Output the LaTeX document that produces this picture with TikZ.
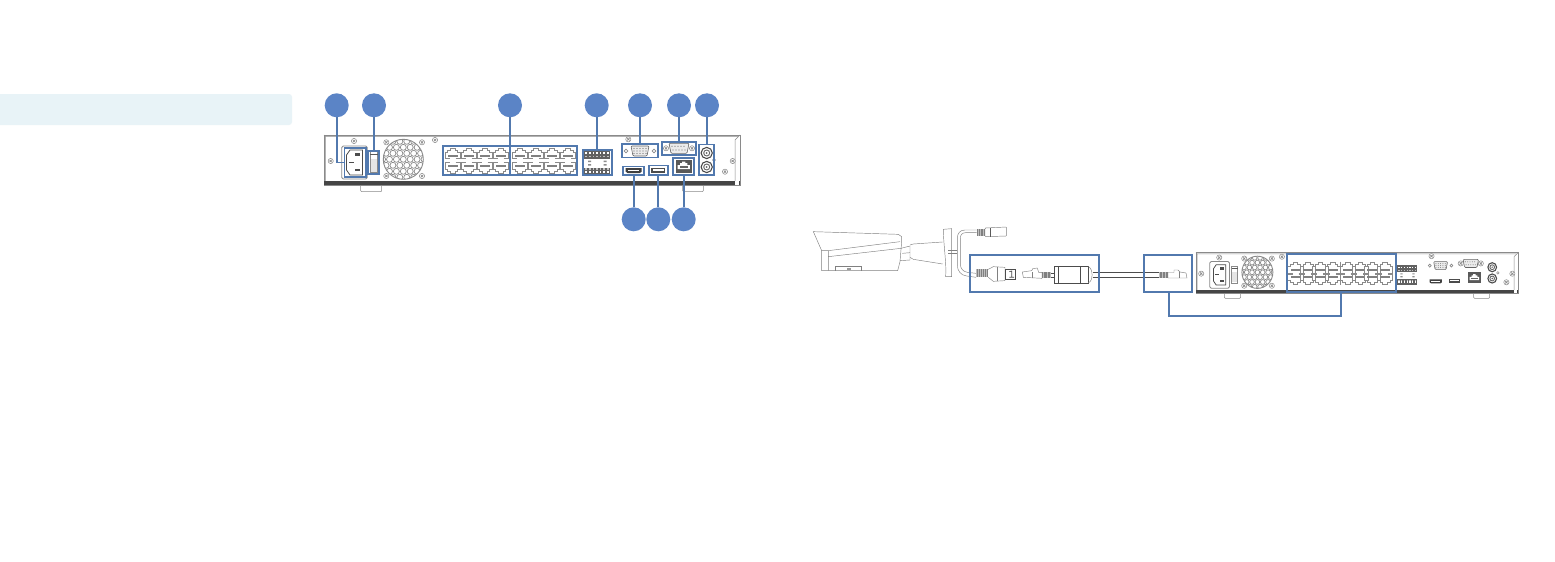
\documentclass[tikz,border=0pt]{standalone}
\definecolor{markblue}{HTML}{5B84C6}
\definecolor{boxblue}{HTML}{5279AE}
\definecolor{bannerblue}{HTML}{E8F3F7}
\definecolor{devline}{HTML}{8A8A8A}
\definecolor{devdark}{HTML}{454545}
\tikzset{
  x=1pt,y=-1pt,
  marker/.style={circle,fill=markblue,draw=none,minimum size=24pt,inner sep=0pt,outer sep=0pt},
  framebox/.style={rectangle,draw=boxblue,line width=1.7pt,fill=none,inner sep=0pt,outer sep=0pt},
  link/.style={draw=boxblue,line width=1.7pt},
  dev/.style={draw=devline,line width=.5pt},
  cam/.style={draw=black!50,line width=.45pt},
  wire/.style={draw=black!70,line width=.7pt},
  screw/.pic={
    \draw[dev,fill=white] (0,0) circle (2.6);
    \draw[dev,line width=.7pt] (-1.2,-1.2)--(1.2,1.2) (-1.2,1.2)--(1.2,-1.2);
  },
  rjport/.pic={
    \draw[dev,line width=.7pt] (-7.8,5.5)--(-7.8,-1)--(-5,-1)--(-5,-3)--(-2.2,-3)--(-2.2,-5)--(2.2,-5)--(2.2,-3)--(5,-3)--(5,-1)--(7.8,-1)--(7.8,5.5);
    \fill[black!50] (-5,1.8) rectangle (5,3.8);
    \draw[dev,line width=.7pt] (-7.8,5.5)--(-3,5.5) (3,5.5)--(7.8,5.5);
  },
  plugright/.pic={
    \fill[black!25] (0,-3) rectangle (9,3);
    \foreach \q in {1,2.5,...,8.5}{\draw[black!50,line width=.4pt] (\q,-3)--(\q,3);}
    \draw[cam,fill=white] (9,-2.5)--(15,-2.5)--(15,-5)--(19,-5)--(21,-3)--(27,-2)--(28,3)--(9,3)--cycle;
    \draw[cam] (20,-3)--(20,3);
  },
  nvr/.pic={
    % feet
    \draw[dev,rounded corners=1pt] (36.7,50)--(36.7,56.7)--(57.7,56.7)--(57.7,50);
    \draw[dev,rounded corners=1pt] (358.7,50)--(358.7,56.7)--(379.3,56.7)--(379.3,50);
    % body
    \draw[dev,fill=white,line width=.7pt] (0,0) rectangle (416,50);
    \draw[dev] (1.5,1.5)--(414,1.5) (1.5,1.5)--(1.5,46) (0,0)--(1.5,1.5);
    \draw[dev] (416,0)--(411,5)--(411,46);
    \fill[devdark] (0,46.3) rectangle (416,49.8);
    \fill[white] (411,46.3) rectangle (415,49.8);
    % fan
    \begin{scope}
      \clip (79.3,24.3) circle (20);
      \foreach \r in {-3,...,3}{
        \foreach \c in {-3,...,3}{
          \pgfmathsetmacro{\fx}{79.3+\c*6.9+mod(abs(\r),2)*3.45}
          \pgfmathsetmacro{\fy}{24.3+\r*6}
          \draw[dev,line width=.7pt] (\fx,\fy) circle (3);
        }
      }
    \end{scope}
    \draw[dev,line width=.9pt] (79.3,24.3) circle (20);
    % screws
    \foreach \p in {(30,6),(6.7,26),(111,5),(304.3,4.3),(408.7,26),(401,36.7),(62.3,7.3),(98,7.3),(62.3,41),(98,41)}{
      \pic at \p {screw};
    }
    \draw[dev] (390,25) circle (1.6);
    % power socket
    \draw[dev,line width=.8pt,rounded corners=1.5pt] (17.7,11) rectangle (43.3,44);
    \draw[black!70,line width=.8pt] (26,15)--(38.5,15)--(38.5,40)--(26,40)--(22.5,35)--(22.5,20)--cycle;
    \fill[black!70] (30.8,18.2) rectangle (35.8,21.2);
    \fill[black!70] (24.5,26.6) rectangle (29.5,28.2);
    \fill[black!70] (30.8,34.2) rectangle (35.8,35.8);
    % switch
    \draw[dev] (46,16.7) rectangle (53.7,37.3);
    \fill[black!65] (46,19) rectangle (53.7,20.2);
    \fill[black!10] (46.8,24) rectangle (52.9,36.5);
    % network ports
    \foreach \q in {128.7,144.7,160.7,176.7,196,212,228,244}{
      \pic at (\q,18.3) {rjport};
      \pic[yscale=-1] at (\q,33.3) {rjport};
    }
    \draw[dev] (186.3,11)--(186.3,40);
    % alarm terminal
    \fill[black!62] (260.3,15.5) rectangle (286,23.5);
    \fill[black!62] (260.3,32.5) rectangle (286,40);
    \foreach \q in {0,...,6}{
      \fill[white] (261.4+\q*3.6,17.4) rectangle (262.9+\q*3.6,19.4);
      \fill[white] (261.4+\q*3.6,35.5) rectangle (262.9+\q*3.6,37.5);
      \fill[black!25] (261.4+\q*3.6,21) rectangle (262.9+\q*3.6,22.4);
      \fill[black!25] (261.4+\q*3.6,33.4) rectangle (262.9+\q*3.6,34.6);
    }
    \fill[black!45] (264,25.5) rectangle (267,27) (264,29) rectangle (267,30.5);
    \fill[black!45] (279.5,25.5) rectangle (282.5,27) (279.5,29) rectangle (282.5,30.5);
    % VGA
    \draw[black!60,line width=.6pt,fill=black!8,rounded corners=1pt] (307,11)--(325,11)--(323,21)--(309,21)--cycle;
    \foreach \q in {310,313,316,319,322}{\fill[black!55] (\q,13.5) circle (.6) (\q,16) circle (.6) (\q,18.5) circle (.6);}
    \draw[dev,line width=.7pt] (302,16) circle (1.8) (330,16) circle (1.8);
    % serial
    \draw[black!60,line width=.6pt,fill=black!8,rounded corners=1pt] (345,8.3)--(365,8.3)--(363,18.3)--(347,18.3)--cycle;
    \foreach \q in {348,351,354,357,360}{\fill[black!55] (\q,11.3) circle (.6) (\q+1,15) circle (.6);}
    \pic at (342,13.3) {screw};
    \pic at (368,13.3) {screw};
    % HDMI
    \fill[black!75] (301.7,33.2)--(317.7,33.2)--(317.7,36.7)--(315.5,38.2)--(303.9,38.2)--(301.7,36.7)--cycle;
    \fill[white] (304,34.8) rectangle (315.4,35.8);
    % USB
    \fill[black!70] (327.3,33.2) rectangle (341.3,38.2);
    \fill[white] (328.5,34.4) rectangle (340,35.6);
    % LAN
    \fill[black!65] (351.7,24.5) rectangle (367.7,37.5);
    \fill[white] (353.5,30)--(356,30)--(356,28)--(358,28)--(358,26.5)--(361.4,26.5)--(361.4,28)--(363.4,28)--(363.4,30)--(365.9,30)--(365.9,34)--(353.5,34)--cycle;
    \fill[black!60] (355.5,31) rectangle (363.9,33);
    % audio
    \foreach \q in {18,32}{
      \draw[black!70,line width=1.1pt,fill=white] (382.7,\q) circle (5.6);
      \draw[black!60,line width=.9pt] (382.7,\q) circle (3);
      \fill[black!60] (382.7,\q) circle (1);
    }
  }
}
\begin{document}
\begin{tikzpicture}
\useasboundingbox (0,0) rectangle (1555,562);
\fill[white] (0,0) rectangle (1555,562);
% banner
\fill[bannerblue] (0,94) [rounded corners=3pt] -- (292,94) -- (292,125) [sharp corners] -- (0,125) -- cycle;

% rear panel, upper left
\pic at (324,135) {nvr};

\node[framebox,minimum width=21.7pt,minimum height=28.4pt] (fpower) at (355.2,162.5) {};
\node[framebox,minimum width=11pt,minimum height=23.3pt] (fswitch) at (373.8,162.3) {};
\node[framebox,minimum width=134pt,minimum height=29.3pt] (fports) at (509.7,160.3) {};
\node[framebox,minimum width=29pt,minimum height=25.3pt] (fterm) at (597.2,162.3) {};
\node[framebox,minimum width=36.6pt,minimum height=13.3pt] (fvga) at (640,150.7) {};
\node[framebox,minimum width=34.3pt,minimum height=13.3pt] (fcom) at (678.9,148.3) {};
\node[framebox,minimum width=15.6pt,minimum height=30.7pt] (faudio) at (706.5,159.7) {};
\node[framebox,minimum width=20.4pt,minimum height=8.7pt] (fhdmi) at (633.5,170.7) {};
\node[framebox,minimum width=18.4pt,minimum height=9.7pt] (fusb) at (658.5,170.2) {};
\node[framebox,minimum width=21pt,minimum height=17.3pt] (flan) at (683.8,166.4) {};

\node[marker] (m1) at (336.7,105.3) {};
\node[marker] (m2) at (374,105.3) {};
\node[marker] (m3) at (510,105.3) {};
\node[marker] (m4) at (596.7,105.3) {};
\node[marker] (m5) at (640,105.3) {};
\node[marker] (m6) at (679,105.3) {};
\node[marker] (m7) at (707,105.3) {};
\node[marker] (m8) at (633.7,219.3) {};
\node[marker] (m9) at (658.3,219.3) {};
\node[marker] (m10) at (683.7,219.3) {};

\draw[link] (m1.south) |- (fpower.west);
\draw[link] (m2.south) -- (m2.south |- fswitch.north);
\draw[link] (m3.south) -- (m3.south |- fports.south);
\draw[link] (m4.south) -- (m4.south |- fterm.north);
\draw[link] (m5.south) -- (m5.south |- fvga.north);
\draw[link] (m6.south) -- (m6.south |- fcom.north);
\draw[link] (m7.south) -- (m7.south |- faudio.north);
\draw[link] (m8.north) -- (m8.north |- fhdmi.south);
\draw[link] (m9.north) -- (m9.north |- fusb.south);
\draw[link] (m10.north) -- (m10.north |- flan.south);

% camera
\begin{scope}[shift={(800,220)},x=.3333pt,y=-.3333pt]
  \draw[cam] (40,35)--(295,43)--(305,50)--(305,65)--(300,125)--(293,152)--(65,152)--(65,92)--cycle;
  \draw[cam] (65,92)--(85,92)--(300,65) (85,92)--(85,152) (85,110)--(303,85);
  \draw[cam] (107,152)--(107,140)--(185,140)--(185,152);
  \fill[black!40] (140,143) rectangle (152,150);
  \draw[cam] (303,85)--(330,78)--(330,120)--(300,122);
  \draw[cam] (307,100)--(330,98);
  \draw[cam] (330,75)--(340,72)--(428,66) (428,132)--(340,118)--(330,112);
  \draw[cam] (430,28)--(455,26)--(455,170)--(437,170) .. controls (440,130) and (430,70) .. (430,28);
  \draw[cam] (445,92)--(472,92) (445,100)--(472,100);
  \draw[cam] (530,30) -- (495,30) .. controls (480,30) and (472,40) .. (472,55) -- (472,135) .. controls (472,152) and (482,166) .. (500,168) -- (528,172);
  \draw[cam] (530,38) -- (497,38) .. controls (486,38) and (481,45) .. (481,55) -- (481,132) .. controls (481,146) and (490,155) .. (502,157) -- (528,160);
  \fill[black!25] (530,28) rectangle (555,48);
  \foreach \q in {533,538,...,553}{\draw[black!50,line width=.4pt] (\q,28)--(\q,48);}
  \draw[cam,rounded corners=.8pt] (555,24)--(620,21)--(620,48)--(555,50)--cycle;
  \draw[black!65,line width=.6pt] (570,24)--(570,50);
\end{scope}

% connector group
\begin{scope}[shift={(960,240)},x=.3333pt,y=-.3333pt]
  \fill[black!25] (48,88) rectangle (85,112);
  \foreach \q in {52,58,...,82}{\draw[black!50,line width=.4pt] (\q,88)--(\q,112);}
  \draw[cam] (85,88)--(100,80)--(135,82)--(135,122)--(100,124)--(85,112);
  \draw[cam] (112,82)--(112,122);
  \draw[wire] (137,87)--(165,87)--(165,118)--(137,118)--cycle;
  \draw[wire] (148,95)--(155,93)--(155,112) (148,112)--(162,112);
  \draw[cam,fill=white] (187,96)--(215,92)--(218,86)--(232,84)--(236,97)--(246,97)--(246,115)--(190,112)--cycle;
  \draw[cam] (218,97)--(218,115);
  \fill[black!25] (245,97) rectangle (272,115);
  \foreach \q in {248,252,...,270}{\draw[black!50,line width=.4pt] (\q,97)--(\q,115);}
  \draw[wire] (272,100)--(283,100) (272,112)--(283,112);
  \draw[wire,fill=white] (283,78) rectangle (385,130);
  \draw[wire] (295,78)--(295,130) (362,78)--(362,130);
  \draw[cam] (385,80) .. controls (400,85) and (400,125) .. (385,128);
\end{scope}
\draw[wire] (1093,272.7) -- (1159,272.7);
\draw[wire] (1093,277.3) -- (1159,277.3);
\pic at (1159,275) {plugright};
\node[framebox,minimum width=129pt,minimum height=37pt] (fcable) at (1034.5,273.5) {};
\node[framebox,minimum width=48pt,minimum height=37pt] (fplug) at (1168.3,273.5) {};

% rear panel, right
\pic[xscale=.774,yscale=.806] at (1196,252.7) {nvr};
\node[framebox,minimum width=109pt,minimum height=37.4pt] (fpoe) at (1341.2,273) {};

\coordinate (fplugdrop) at (1169.3,0);
\draw[link] (fpoe.south) -- ++(0,24.3) -| (fplugdrop |- fplug.south);
\end{tikzpicture}
\end{document}
